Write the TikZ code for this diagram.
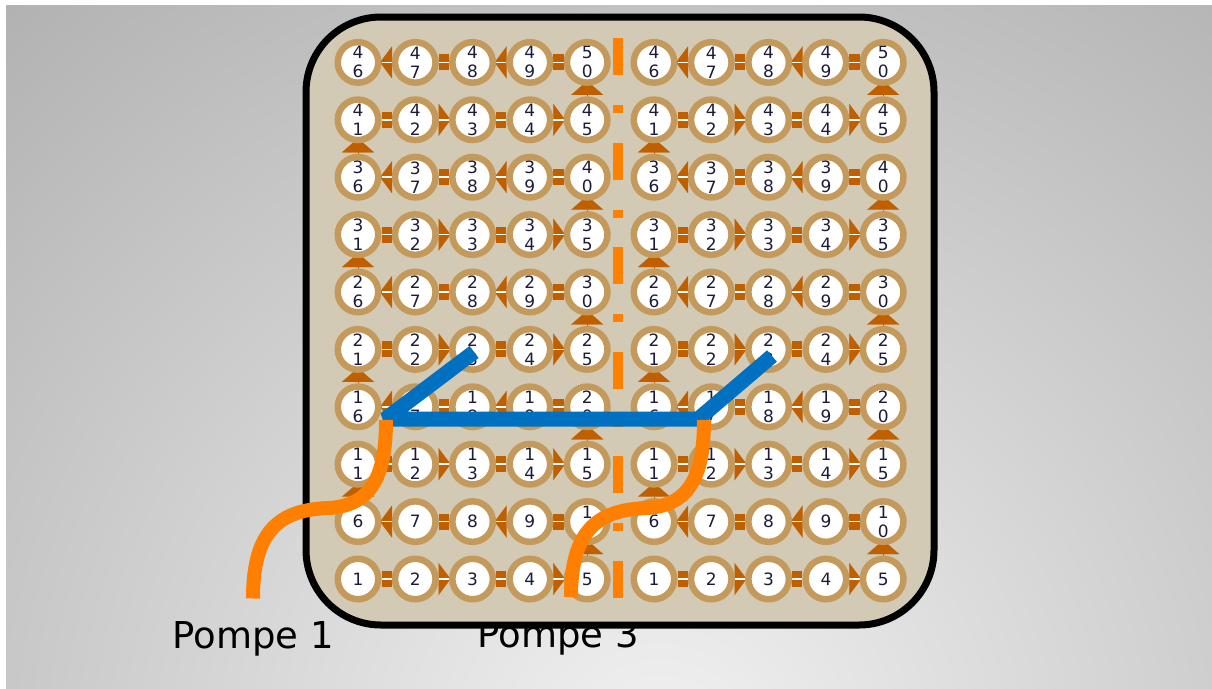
\documentclass[tikz,border=0pt]{standalone}
\usepackage{fontspec}
\setmainfont{DejaVu Sans}
\usetikzlibrary{arrows.meta, calc}
\definecolor{board-bg}{HTML}{D3CAB5}
\definecolor{hole-ring}{HTML}{C49A5C}
\definecolor{link-brown}{HTML}{BF5F00}
\definecolor{hose-orange}{HTML}{FF8000}
\definecolor{pipe-blue}{HTML}{0070C0}
\definecolor{digit-ink}{HTML}{1C1C3A}
\definecolor{bg-light}{HTML}{F2F2F2}
\definecolor{bg-dark}{HTML}{AAAAAA}
\pgfdeclarelayer{back}
\pgfdeclarelayer{links}
\pgfsetlayers{back,links,main}

\begin{document}
\begin{tikzpicture}[x=1pt, y=-1pt,
    hole/.style={circle, draw=hole-ring, line width=6.5pt, fill=white,
      minimum size=40.5pt, inner sep=0pt, align=center, text=digit-ink,
      font=\fontsize{17}{19}\selectfont},
    bar/.style={link-brown, line width=16pt},
    flow/.style={link-brown, line width=0.1pt,
      -{Triangle[width=32pt, length=12pt]}, shorten >=-1.5pt},
    tent/.style={link-brown, line width=0.1pt,
      -{Triangle[width=32pt, length=14pt]}, shorten >=-5pt},
    seam/.style={white, line width=1.5pt},
    hose/.style={hose-orange, line width=14pt},
    pump/.style={font=\fontsize{37}{40}\selectfont, anchor=base}]
  \useasboundingbox (0,0) rectangle (1212,688);

  % background, labels and board
  \begin{pgfonlayer}{back}
    \fill[white] (0,0) rectangle (1212,688);
    \begin{scope}
      \clip (6,5) rectangle (1212,688);
      \shade[inner color=bg-light, outer color=bg-dark] (660,760) circle (1120);
    \end{scope}
    \node[pump] (pompe1) at (253,648) {Pompe 1};
    \node[pump] (pompe3) at (558,647) {Pompe 3};
    \draw[line width=7pt, fill=board-bg, rounded corners=75pt] (306,17) rectangle (934,625);
  \end{pgfonlayer}

  % holes, numbered row by row from the bottom
  \foreach \side/\xo in {L/358, R/654} {
    \foreach \row in {1,...,10} {
      \foreach \col in {1,...,5} {
        \pgfmathtruncatemacro\n{5*(\row-1)+\col}
        \pgfmathtruncatemacro\tens{\n/10}
        \pgfmathtruncatemacro\units{\n-10*\tens}
        \node[hole] (\side\n) at ({\xo+57.3*(\col-1)}, {579-57.4*(\row-1)})
          {\ifnum\n<10 \n\else\tens\\\units\fi};
      }
    }
  }

  % links between the holes
  \begin{pgfonlayer}{links}
    \foreach \side in {L,R} {
      \foreach \row in {1,...,10} {
        \foreach \col in {1,...,4} {
          \pgfmathtruncatemacro\ia{5*(\row-1)+\col}
          \pgfmathtruncatemacro\ib{\ia+1}
          \pgfmathtruncatemacro\kind{mod(\row+\col,2)}
          \ifnum\kind=0 \draw[bar] (\side\ia) -- (\side\ib);
          \else\ifodd\row\relax \draw[flow] (\side\ia) -- (\side\ib);
          \else \draw[flow] (\side\ib) -- (\side\ia);
          \fi\fi
          \draw[seam] (\side\ia) -- (\side\ib);
        }
      }
      \foreach \row in {1,...,9} {
        \ifodd\row\relax \pgfmathtruncatemacro\ia{5*\row}
        \else \pgfmathtruncatemacro\ia{5*\row-4}
        \fi
        \pgfmathtruncatemacro\ib{\ia+5}
        \draw[tent] (\side\ia) -- (\side\ib);
      }
    }
  \end{pgfonlayer}

  % separation
  \draw[hose-orange, line width=10pt,
    dash pattern=on 37pt off 30pt on 8pt off 29.5pt] (618,38) -- (618,600);

  % blue pipe
  \coordinate (b1) at ([shift={(1.5,2.6)}]L23.center);
  \coordinate (b2) at ([shift={(27,12.4)}]L16.center);
  \coordinate (b3) at ([shift={(-13.3,12.4)}]R17.center);
  \coordinate (b4) at ([shift={(3.4,6.6)}]R23.center);
  \draw[pipe-blue, line width=15pt, line join=bevel] (b1) -- (b2) -- (b3) -- (b4);

  % hoses from the pumps
  \coordinate (h1) at ([shift={(28,13)}]L16.center);
  \coordinate (h3) at ([shift={(-7.3,13)}]R17.center);
  \coordinate (p1) at ([shift={(0,-19)}]pompe1.north);
  \coordinate (p3) at ([shift={(13,-19)}]pompe3.north);
  \draw[hose] (p1) .. controls (253,530) and (280,510) .. (328,508)
    .. controls (375,506) and (386,470) .. (h1);
  \draw[hose] (p3) .. controls (571,530) and (598,510) .. (646,508)
    .. controls (693,506) and (704,470) .. (h3);
\end{tikzpicture}
\end{document}
